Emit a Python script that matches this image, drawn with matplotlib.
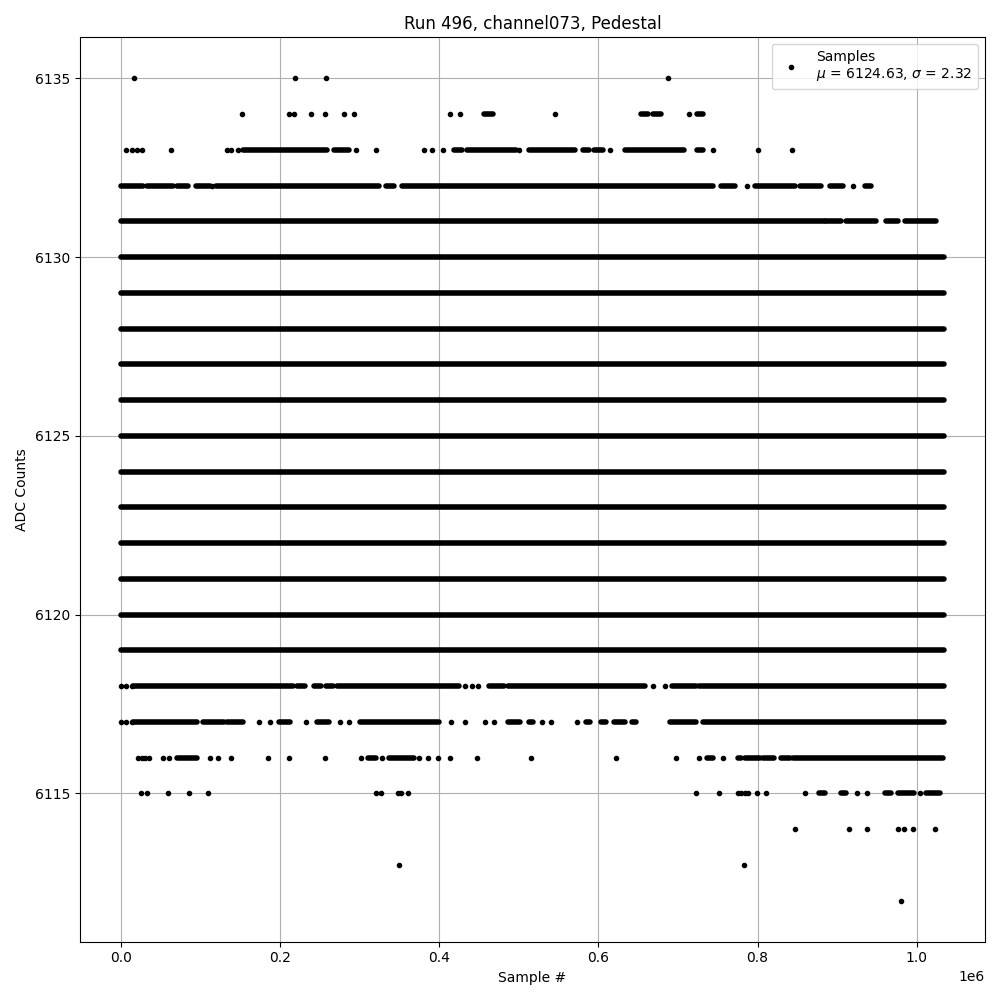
import numpy as np
import matplotlib
matplotlib.use('Agg')
import matplotlib.pyplot as plt

# Valores (muestras en miles, ADC en cuentas)
n_muestras_k = 1034
mu, sigma = 6124.63, 2.32

# Niveles que estan llenos de punta a punta
niveles_llenos = [6119, 6120, 6121, 6122, 6123, 6124, 6125, 6126, 6127, 6128, 6129, 6130]

# Puntos aislados por nivel
puntos_6135 = [16, 219, 258, 687]
puntos_6134 = [152, 211, 218, 239, 256, 281, 293, 414, 426, 545, 714]
puntos_6133 = [6, 14, 20, 26, 63, 133, 139, 147, 296, 320, 381, 391, 405, 500,
               615, 744, 800, 843]
puntos_6132 = [115, 787, 920]
puntos_6118 = [0, 6, 14, 432, 441, 449, 668, 684]
puntos_6117 = [0, 6, 14, 173, 187, 233, 276, 287, 415, 432, 457, 469, 529, 540, 573]
puntos_6116 = [21, 26, 31, 36, 53, 60, 112, 122, 139, 185, 211, 256, 302, 328, 375,
               386, 398, 414, 447, 515, 622, 697, 727, 757]
puntos_6115 = [25, 33, 59, 86, 109, 320, 327, 348, 352, 361, 722, 751, 776, 779,
               784, 788, 799, 810, 860, 925, 937, 1004]
puntos_6114 = [847, 915, 937, 977, 984, 995, 1023]
puntos_6113 = [350, 783]
puntos_6112 = [980]

# Tramos densos (inicio, fin) por nivel
tramos_6134 = [(456, 467), (654, 662), (669, 679), (724, 732)]
tramos_6133 = [(154, 259), (268, 287), (419, 429), (435, 496), (513, 571), (581, 588),
               (594, 606), (634, 707), (724, 732)]
tramos_6132 = [(0, 28), (33, 65), (70, 84), (95, 112), (120, 325), (333, 343),
               (353, 744), (754, 772), (797, 847), (853, 880), (891, 907), (935, 942)]
tramos_6131 = [(0, 885), (886, 905), (911, 949), (961, 976), (985, 1024)]
tramos_6118 = [(15, 216), (221, 231), (243, 252), (258, 266), (272, 425), (462, 481),
               (486, 659), (692, 722), (726, n_muestras_k)]
tramos_6117 = [(15, 96), (103, 130), (134, 153), (199, 212), (246, 262), (300, 400),
               (487, 502), (513, 518), (584, 589), (603, 610), (619, 634), (642, 647),
               (690, 722), (732, n_muestras_k)]
tramos_6116 = [(70, 96), (311, 321), (337, 368), (736, 744), (776, 779), (784, 803),
               (807, 820), (830, 841), (845, 1033)]
tramos_6115 = [(877, 885), (905, 911), (960, 967), (976, 997), (1011, 1029)]

puntos = {6135: puntos_6135, 6134: puntos_6134, 6133: puntos_6133, 6132: puntos_6132,
          6118: puntos_6118, 6117: puntos_6117, 6116: puntos_6116, 6115: puntos_6115,
          6114: puntos_6114, 6113: puntos_6113, 6112: puntos_6112}
tramos = {6134: tramos_6134, 6133: tramos_6133, 6132: tramos_6132, 6131: tramos_6131,
          6118: tramos_6118, 6117: tramos_6117, 6116: tramos_6116, 6115: tramos_6115}
for nivel in niveles_llenos:
    tramos[nivel] = [(0, n_muestras_k)]

### Armado de arrays ###
xs, ys = [], []
for nivel, lista in puntos.items():
    xs += [1e3 * p for p in lista]
    ys += [nivel] * len(lista)

t_y, t_x0, t_x1 = [], [], []
for nivel, lista in tramos.items():
    for a, b in lista:
        t_y.append(nivel)
        t_x0.append(1e3 * a)
        t_x1.append(1e3 * b)

### Ploteo ###
fig, ax = plt.subplots(figsize=(10, 10), dpi=100)
lc = ax.hlines(t_y, t_x0, t_x1, colors='k', linewidth=4)
lc.set_capstyle('round')
ax.plot(xs, ys, 'k.', label='Samples\n$\\mu$ = {0:.2f}, $\\sigma$ = {1:.2f}'.format(mu, sigma))

ax.grid()
ax.set_title('Run 496, channel073, Pedestal')
ax.set_xlabel('Sample #')
ax.set_ylabel('ADC Counts')
ax.legend(loc='upper right')
fig.tight_layout()
fig.savefig('out.png')
